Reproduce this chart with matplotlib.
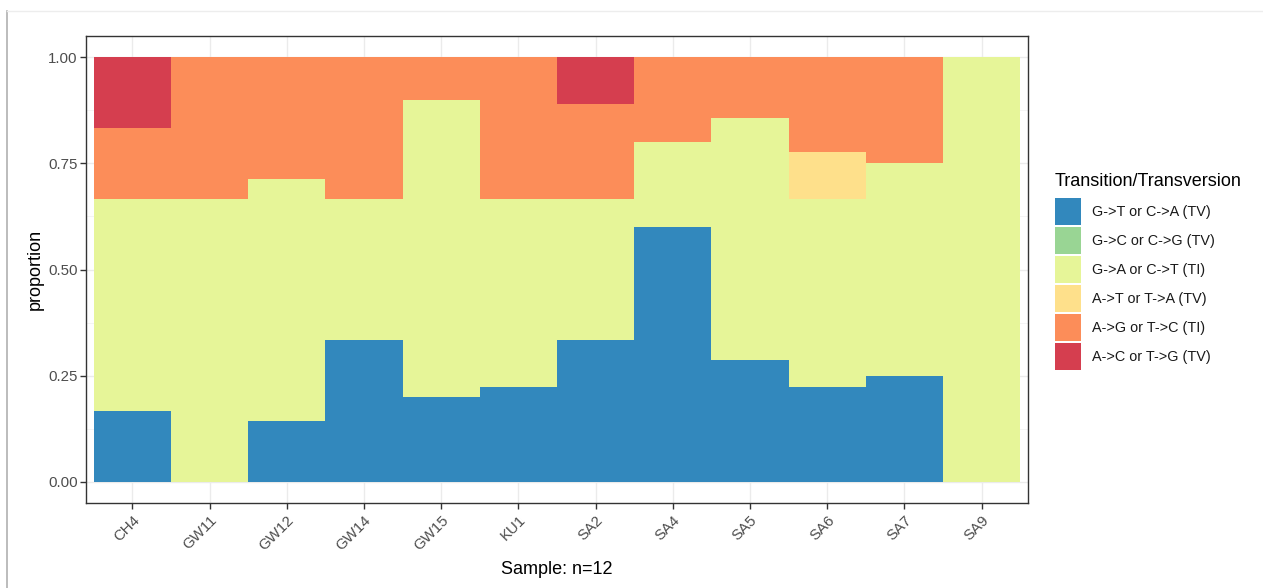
import matplotlib
matplotlib.use("Agg")
import matplotlib.pyplot as plt
from matplotlib.patches import Rectangle
from matplotlib.lines import Line2D
import numpy as np

plt.rcParams['font.family'] = ['Liberation Sans', 'DejaVu Sans']

samples = ["CH4", "GW11", "GW12", "GW14", "GW15", "KU1", "SA2", "SA4", "SA5", "SA6", "SA7", "SA9"]
categories = ["G->T or C->A (TV)", "G->C or C->G (TV)", "G->A or C->T (TI)",
              "A->T or T->A (TV)", "A->G or T->C (TI)", "A->C or T->G (TV)"]
colors = ["#3288BD", "#99D594", "#E6F598", "#FEE08B", "#FC8D59", "#D53E4F"]

gt_ca = [1/6, 0, 1/7, 1/3, 0.2, 2/9, 1/3, 0.6, 2/7, 2/9, 0.25, 0]
gc_cg = [0, 0, 0, 0, 0, 0, 0, 0, 0, 0, 0, 0]
ga_ct = [1/2, 2/3, 4/7, 1/3, 0.7, 4/9, 1/3, 0.2, 4/7, 4/9, 0.5, 1.0]
at_ta = [0, 0, 0, 0, 0, 0, 0, 0, 0, 1/9, 0, 0]
ag_tc = [1/6, 1/3, 2/7, 1/3, 0.1, 1/3, 2/9, 0.2, 1/7, 2/9, 0.25, 0]
ac_tg = [1/6, 0, 0, 0, 0, 0, 1/9, 0, 0, 0, 0, 0]
series = [gt_ca, gc_cg, ga_ct, at_ta, ag_tc, ac_tg]

W, H = 1263, 588
fig = plt.figure(figsize=(W/100, H/100), dpi=100)
ax = fig.add_axes([86/W, 1-503/H, (1028-86)/W, (503-36)/H])

x = np.arange(len(samples))
bottom = np.zeros(len(samples))
for vals, c in zip(series, colors):
    vals = np.array(vals)
    ax.bar(x, vals, width=1.0, bottom=bottom, color=c, linewidth=0, zorder=2)
    bottom += vals

ax.set_xlim(-0.6, len(samples) - 0.4)
ax.set_ylim(-0.05, 1.05)
ax.set_yticks([0, 0.25, 0.5, 0.75, 1.0])
ax.set_yticklabels(["0.00", "0.25", "0.50", "0.75", "1.00"])
ax.set_yticks([0.125, 0.375, 0.625, 0.875], minor=True)
ax.set_xticks(x)
ax.set_xticklabels(samples, rotation=45, ha='right', va='top', rotation_mode='anchor')

ax.grid(True, which='major', color='#EBEBEB', linewidth=1.0, zorder=0)
ax.grid(True, which='minor', axis='y', color='#F2F2F2', linewidth=0.6, zorder=0)
ax.set_axisbelow(True)
for s in ax.spines.values():
    s.set_color('#333333')
    s.set_linewidth(1.0)
ax.tick_params(axis='both', which='major', colors='#333333', length=4, width=1.0,
               labelcolor='#4D4D4D', labelsize=10.8)
ax.tick_params(axis='both', which='minor', length=0)
ax.tick_params(axis='x', pad=3)
ax.tick_params(axis='y', pad=2)

ax.set_ylabel("proportion", fontsize=13, color='black', labelpad=3)
ax.set_xlabel("Sample: n=12", fontsize=13, color='black', labelpad=6)

# legend (manual, ggplot style)
fig.text(1055/W, 1-181/H, "Transition/Transversion", fontsize=13, va='center', ha='left')
for i, (lab, c) in enumerate(zip(categories, colors)):
    y0 = 198 + i * 29
    fig.add_artist(Rectangle((1055/W, 1-(y0+27)/H), 26/W, 27/H, facecolor=c,
                             edgecolor='none', transform=fig.transFigure))
    fig.text(1092/W, 1-(y0+14)/H, lab, fontsize=10.4, va='center', ha='left', color='#1A1A1A')

# screenshot frame
fig.add_artist(Line2D([7/W, 7/W], [0, 1-11/H], color='#B0B0B0', linewidth=1.2, transform=fig.transFigure))
fig.add_artist(Line2D([7/W, 1], [1-11/H, 1-11/H], color='#EDEDED', linewidth=1.0, transform=fig.transFigure))

fig.savefig("out.png", dpi=100)
